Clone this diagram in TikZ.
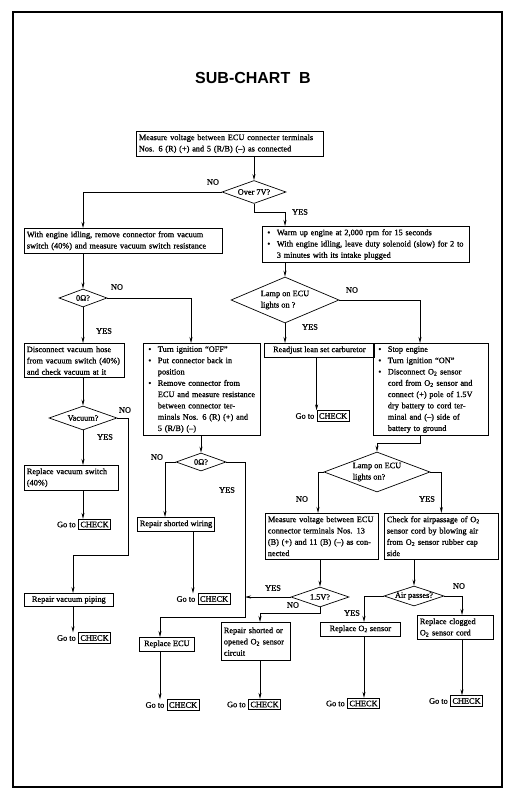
\documentclass[tikz,border=0pt]{standalone}
\usepackage{fontspec}
\setmainfont{Liberation Serif}[FakeBold=1]
\newfontfamily\titlefont{Liberation Sans}
\usetikzlibrary{arrows.meta, positioning, shapes.geometric}

\newcommand{\bul}{\makebox[12pt][l]{\hspace{2.5pt}\textbullet}}
\newcommand{\ind}{\hspace*{12pt}}

\begin{document}
\begin{tikzpicture}[x=1pt, y=-1pt, >={Stealth[length=6pt,width=3pt]}, line width=0.7pt,
    every node/.style={font=\fontsize{8.3}{11.3}\selectfont},
    box/.style={draw, anchor=north west, align=left, inner xsep=2.5pt, inner ysep=3pt},
    dia/.style={draw, diamond, shape aspect=3, inner sep=0pt, align=center},
    chk/.style={draw, inner xsep=2pt, inner ysep=2.5pt},
    lbl/.style={inner sep=0pt}]
  \useasboundingbox (0,0) rectangle (515,799);

  % Frame and title
  \draw[line width=2.4pt] (13,12) rectangle (502,787);
  \node[font=\titlefont\bfseries\fontsize{16}{18}\selectfont] (title) at (253,78) {SUB-CHART\ \ B};

  % Drop columns
  \coordinate (xB) at (73,0);
  \coordinate (xD) at (191,0);
  \coordinate (xF) at (165,0);
  \coordinate (xG) at (193,0);
  \coordinate (xI) at (160,0);
  \coordinate (xM) at (420,0);
  \coordinate (xO) at (318,0);
  \coordinate (xR) at (260,0);
  \coordinate (xT) at (364,0);
  \coordinate (xU) at (462,0);
  \coordinate (vturn) at (128,555);
  \coordinate (eturn) at (245,617);

  % Boxes
  \node[box, text width=182pt] (meas) at (136,131) {Measure voltage between ECU connecter terminals\\ Nos. 6 (R) (+) and 5 (R/B) (--) as connected};
  \node[box, text width=193pt] (idle) at (24,228) {With engine idling, remove connector from vacuum\\ switch (40\%) and measure vacuum switch resistance};
  \node[box, text width=202pt] (warm) at (262,226) {\bul Warm up engine at 2,000 rpm for 15 seconds\\ \bul With engine idling, leave duty solenoid (slow) for 2 to\\ \ind 3 minutes with its intake plugged};
  \node[box, text width=95pt] (hose) at (24,343) {Disconnect vacuum hose\\ from vacuum switch (40\%)\\ and check vacuum at it};
  \node[box, text width=112pt] (ign) at (143,343) {\bul Turn ignition ``OFF''\\ \bul Put connector back in\\ \ind position\\ \bul Remove connector from\\ \ind ECU and measure resistance\\ \ind between connector ter-\\ \ind minals Nos. 6 (R) (+) and\\ \ind 5 (R/B) (--)};
  \node[box, minimum width=110pt, align=center] (readj) at (264,343) {Readjust lean set carburetor};
  \node[box, text width=110pt] (stop) at (373,343) {\bul Stop engine\\ \bul Turn ignition ``ON''\\ \bul Disconnect O\textsubscript{2} sensor\\ \ind cord from O\textsubscript{2} sensor and\\ \ind connect (+) pole of 1.5V\\ \ind dry battery to cord ter-\\ \ind minal and (--) side of\\ \ind battery to ground};
  \node[box, text width=89pt] (repvs) at (24,465) {Replace vacuum switch\\ (40\%)};
  \node[box] (wiring) at (137,517) {Repair shorted wiring};
  \node[box, minimum width=89pt] (piping) at (24,593) {Repair vacuum piping};
  \node[box, minimum width=55pt] (ecu) at (139,637) {Replace ECU};
  \node[box, text width=108pt] (volt) at (265,513) {Measure voltage between ECU\\ connector terminals Nos. 13\\ (B) (+) and 11 (B) (--) as con-\\ nected};
  \node[box, text width=109pt] (air) at (384,513) {Check for airpassage of O\textsubscript{2}\\ sensor cord by blowing air\\ from O\textsubscript{2} sensor rubber cap\\ side};
  \node[box, text width=64pt, inner ysep=5pt] (circ) at (221,622) {Repair shorted or\\ opened O\textsubscript{2} sensor\\ circuit};
  \node[box, minimum width=80pt] (rs) at (320,622) {Replace O\textsubscript{2} sensor};
  \node[box, text width=71pt] (clog) at (417,615) {Replace clogged\\ O\textsubscript{2} sensor cord};

  % Decisions
  \node[dia, minimum width=64pt, minimum height=23pt] (over) at (254,192) {Over 7V?};
  \node[dia, minimum width=48pt, minimum height=18pt] (zero1) at (83,298) {0Ω?};
  \node[dia, minimum width=108pt, minimum height=46pt, align=left] (lamp1) at (285,300) {Lamp on ECU\\ lights on ?};
  \node[dia, minimum width=68pt, minimum height=24pt] (vac) at (83,418) {Vacuum?};
  \node[dia, minimum width=50pt, minimum height=18pt] (zero2) at (201,462) {0Ω?};
  \node[dia, minimum width=106pt, minimum height=40pt, align=left] (lamp2) at (377,472) {Lamp on ECU\\ lights on?};
  \node[dia, minimum width=58pt, minimum height=20pt] (v15) at (320,597) {1.5V?};
  \node[dia, minimum width=60pt, minimum height=20pt] (pass) at (414,596) {Air passes?};

  % Go to CHECK
  \node[chk] (c1) at (94.5,524.5) {CHECK};
  \node[chk] (c2) at (94.5,638) {CHECK};
  \node[chk] (c3) at (333,416) {CHECK};
  \node[chk] (c4) at (214,599) {CHECK};
  \node[chk] (c5) at (183,705) {CHECK};
  \node[chk] (c6) at (264.5,704.5) {CHECK};
  \node[chk] (c7) at (363.5,703.5) {CHECK};
  \node[chk] (c8) at (466.5,701) {CHECK};
  \foreach \c in {1,...,8}
    \node[left=2pt of c\c, inner sep=0pt] (g\c) {Go to};

  % YES / NO
  \node[lbl] (no1) at (213,182) {NO};
  \node[lbl] (yes1) at (300,212) {YES};
  \node[lbl] (no2) at (117,287) {NO};
  \node[lbl] (yes2) at (104,331) {YES};
  \node[lbl] (no3) at (352,290) {NO};
  \node[lbl] (yes3) at (310,327) {YES};
  \node[lbl] (no4) at (125,410) {NO};
  \node[lbl] (yes4) at (105,437) {YES};
  \node[lbl] (no5) at (157,457) {NO};
  \node[lbl] (yes5) at (227,490) {YES};
  \node[lbl] (no6) at (302,499) {NO};
  \node[lbl] (yes6) at (427,499) {YES};
  \node[lbl] (yes7) at (273,588) {YES};
  \node[lbl] (no7) at (293,605) {NO};
  \node[lbl] (yes8) at (352,613) {YES};
  \node[lbl] (no8) at (459,586) {NO};

  % Connectors
  \draw[->] (meas.south -| over) -- (over.north);
  \draw[->] (over.west) -| (zero1 |- idle.north);
  \draw[->] (over.south) -- ++(0,9) -| (lamp1 |- warm.north);
  \draw[->] (idle.south -| zero1) -- (zero1.north);
  \draw[->] (warm.south -| lamp1) -- (lamp1.north);
  \draw[->] (zero1.east) -| (xD |- ign.north);
  \draw[->] (zero1.south) -- (zero1 |- hose.north);
  \draw[->] (lamp1.east) -| (xM |- stop.north);
  \draw[->] (lamp1.south) -- (lamp1 |- readj.north);
  \draw[->] (hose.south -| vac) -- (vac.north);
  \draw[->] (ign.south -| zero2) -- (zero2.north);
  \draw[->] (readj.south -| c3.north west) -- (c3.north west);
  \draw[->] (stop.south -| xM) -- ++(0,7) -| (lamp2.north);
  \draw[->] (vac.east) -| (vturn) -| (xB |- piping.north);
  \draw[->] (vac.south) -- (vac |- repvs.north);
  \draw[->] (zero2.west) -| (xF |- wiring.north);
  \draw[->] (zero2.east) -| (eturn) -| (xI |- ecu.north);
  \draw[->] (lamp2.west) -| (xO |- volt.north);
  \draw[->] (lamp2.east) -| (air.north);
  \draw[->] (repvs.south -| vac) -- (vac |- c1.north);
  \draw[->] (piping.south -| xB) -- (xB |- c2.north);
  \draw[->] (wiring.south -| xG) -- (xG |- c4.north);
  \draw[->] (volt.south -| v15) -- (v15.north);
  \draw[->] (air.south -| pass) -- (pass.north);
  \draw[->] (v15.west) -- (v15.west -| eturn);
  \draw[->] (v15.south) -- ++(0,6) -| (xR |- circ.north);
  \draw[->] (pass.west) -| (xT |- rs.north);
  \draw[->] (pass.east) -| (xU |- clog.north);
  \draw[->] (ecu.south -| xI) -- (xI |- c5.north);
  \draw[->] (circ.south -| xR) -- (xR |- c6.north);
  \draw[->] (rs.south -| xT) -- (xT |- c7.north);
  \draw[->] (clog.south -| xU) -- (xU |- c8.north);
\end{tikzpicture}
\end{document}
